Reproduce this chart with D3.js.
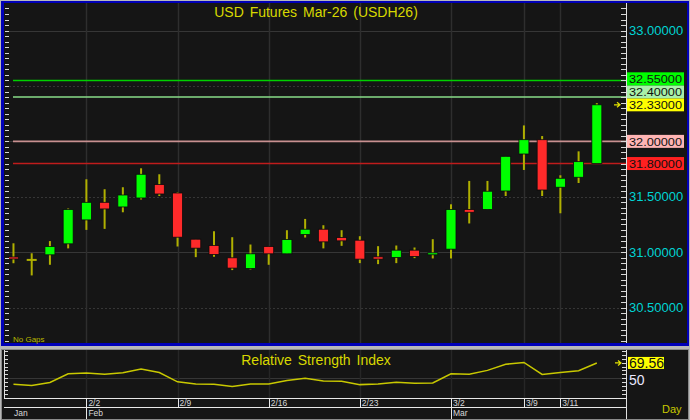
<!DOCTYPE html>
<html><head><meta charset="utf-8">
<script src="https://cdn.jsdelivr.net/npm/d3@7/dist/d3.min.js"></script>
<style>html,body{margin:0;padding:0;background:#c0c0c0;overflow:hidden}svg{display:block;font-family:"Liberation Sans",Arial,sans-serif}</style>
</head><body><svg id="c" width="690" height="420"></svg>
<script>
// ---------------- data ----------------
const title = "USD Futures Mar-26 (USDH26)";
const dates = ["1/27","1/28","1/29","1/30",
  "2/2","2/3","2/4","2/5","2/6","2/9","2/10","2/11","2/12","2/13",
  "2/16","2/17","2/18","2/19","2/20","2/23","2/24","2/25","2/26","2/27",
  "3/2","3/4","3/5","3/6","3/9","3/10","3/11","3/12","3/13"];
const opens  = [30.950,30.930,30.976,31.075,31.291,31.450,31.408,31.489,31.610,31.534,31.117,31.060,30.949,30.853,31.051,30.985,31.159,31.207,31.132,31.108,30.958,30.952,31.018,30.979,31.027,31.385,31.385,31.552,31.886,32.015,31.586,31.676,31.800];
const highs  = [31.080,30.990,31.100,31.394,31.658,31.568,31.586,31.757,31.703,31.540,31.117,31.189,31.135,31.069,31.051,31.198,31.300,31.243,31.198,31.144,31.054,31.060,31.042,31.117,31.432,31.643,31.643,31.865,32.144,32.048,31.694,31.910,32.345];
const lows   = [30.900,30.790,30.886,31.034,31.201,31.210,31.360,31.475,31.507,31.051,30.955,30.958,30.838,30.844,30.886,30.985,31.132,31.034,31.057,30.901,30.892,30.901,30.946,30.943,30.943,31.259,31.385,31.507,31.742,31.507,31.351,31.624,31.800];
const closes = [30.945,30.930,31.050,31.385,31.450,31.390,31.516,31.703,31.525,31.135,31.036,30.979,30.856,30.985,30.985,31.114,31.207,31.093,31.102,30.937,30.937,31.018,30.961,30.991,31.385,31.360,31.550,31.865,32.015,31.561,31.667,31.817,32.330];
const rsi    = [42.4,41.0,44.8,55.7,56.8,55.1,57.1,61.8,57.4,45.5,42.9,42.4,39.5,42.9,42.9,47.2,50.2,46.7,46.3,42.0,42.9,45.1,43.8,44.2,55.7,55.3,60.1,67.8,70.2,54.9,57.5,59.7,69.56];
const priceLabels = [30.5, 31.0, 31.5, 33.0];
const gridPrices = [30.5, 31.0, 31.5, 32.0, 32.5, 33.0];
const levels = [32.55, 32.40, 32.00, 31.80];
const lastPrice = 32.33;
const dayLabels = ["2/2","2/9","2/16","2/23","3/2","3/9","3/11"];
const monthLabels = ["Jan","Feb","Mar"];
const monthStarts = ["1/27","2/2","3/2"];
const rsiTitle = "Relative Strength Index";
const rsiMid = 50;

// ---------------- layout ----------------
const svg = d3.select("#c");
const W = 690, H = 420;
const plotL = 5, plotR = 626;
const mainT = 3, mainB = 343;
const lowT = 350, lowB = 398;

const x = d3.scaleLinear().domain([-0.3, 33.6]).range([8, plotR]);
const y = d3.scaleLinear().domain([30.18, 33.24]).range([343, 4]);
const yr = d3.scaleLinear().domain([25, 86]).range([398, 350]);
const idx = d => dates.indexOf(d);

const BG = "#151515";
// frames
svg.append("rect").attr("x",0).attr("y",0).attr("width",W).attr("height",H).attr("fill","#b8b8b8");
svg.append("rect").attr("x",1).attr("y",1).attr("width",688).attr("height",345).attr("fill","#0000b8");
svg.append("rect").attr("x",4).attr("y",3).attr("width",683).attr("height",340).attr("fill",BG);
svg.append("rect").attr("x",1.5).attr("y",349.5).attr("width",687).attr("height",70).attr("fill",BG).attr("stroke","#8a8a8a");

// ---------- main panel grid ----------
const g = svg.append("g");
g.selectAll(".hg").data(gridPrices).join("line")
  .attr("x1",plotL).attr("x2",plotR).attr("y1",d=>Math.round(y(d))+0.5).attr("y2",d=>Math.round(y(d))+0.5)
  .attr("stroke","#363636").attr("stroke-width",1)
  .attr("stroke-dasharray",d=>Number.isInteger(d)?null:"2,2");
g.selectAll(".vg").data(dayLabels).join("line")
  .attr("x1",d=>Math.round(x(idx(d)))+0.5).attr("x2",d=>Math.round(x(idx(d)))+0.5)
  .attr("y1",mainT).attr("y2",mainB).attr("stroke","#2e2e2e").attr("stroke-width",1.5);

// level lines
const levelStroke = ["#00d000","#88dd88","#c89090","#c01c1c"];
const levelFill = ["#00ff00","#a8f0a8","#ffb4b4","#ff2020"];
g.selectAll(".lv").data(levels).join("line")
  .attr("x1",13).attr("x2",plotR).attr("y1",d=>y(d)).attr("y2",d=>y(d))
  .attr("stroke",(d,i)=>levelStroke[i]).attr("stroke-width",1.6);

// candles
const cw = 10;
const cg = g.append("g");
const ci = d3.range(dates.length);
cg.selectAll(".wick").data(ci).join("line")
  .attr("x1",i=>x(i)).attr("x2",i=>x(i)).attr("y1",i=>y(highs[i])).attr("y2",i=>y(lows[i]))
  .attr("stroke","#b0b000").attr("stroke-width",2);
cg.selectAll(".body").data(ci).join("rect")
  .attr("x",i=>x(i)-cw/2).attr("width",cw)
  .attr("y",i=>{const t=y(Math.max(opens[i],closes[i])), b=y(Math.min(opens[i],closes[i])); return b-t<2?(t+b)/2-1:t;})
  .attr("height",i=>Math.max(2, y(Math.min(opens[i],closes[i]))-y(Math.max(opens[i],closes[i]))))
  .attr("fill",i=>closes[i]>opens[i]?"#00ff00":(closes[i]<opens[i]?"#ff2a2a":"#b0b000"))
  .attr("stroke","#0c0c0c").attr("stroke-width",i=>closes[i]===opens[i]?0:0.8);

// left / right ticks main
const mainTicks = d3.range(Math.ceil(30.18/0.05)*0.05, 33.24, 0.05);
g.selectAll(".lt").data(mainTicks).join("line")
  .attr("x1",5).attr("x2",9).attr("y1",d=>Math.round(y(d))+0.5).attr("y2",d=>Math.round(y(d))+0.5)
  .attr("stroke","#d8d8d8").attr("stroke-width",1);
g.selectAll(".rt").data(mainTicks).join("line")
  .attr("x1",621).attr("x2",plotR).attr("y1",d=>Math.round(y(d))+0.5).attr("y2",d=>Math.round(y(d))+0.5)
  .attr("stroke","#d8d8d8").attr("stroke-width",1);
g.append("line").attr("x1",plotR+0.5).attr("x2",plotR+0.5).attr("y1",mainT).attr("y2",mainB).attr("stroke","#e0e0e0");

// title
g.append("text").attr("x",316).attr("y",17).attr("text-anchor","middle")
  .attr("fill","#d8d800").attr("font-size",14).attr("word-spacing",2).text(title);

// price labels
g.selectAll(".pl").data(priceLabels).join("text")
  .attr("x",629).attr("y",d=>y(d)+4.5).attr("fill","#00d4d4").attr("font-size",13)
  .text(d=>d.toFixed(5));

// level labels with collision handling
const lab = levels.map((v,i)=>({v, c:y(v), fill:levelFill[i]}));
lab.push({v:lastPrice, c:y(lastPrice), fill:"#ffff00"});
lab.sort((a,b)=>b.c-a.c); // bottom first
const bh = 13;
for(let k=1;k<lab.length;k++){ lab[k].c = Math.min(lab[k].c, lab[k-1].c - bh); }
const lg = g.selectAll(".lb").data(lab).join("g");
lg.append("rect").attr("x",627).attr("y",d=>d.c-bh/2).attr("width",57).attr("height",bh).attr("fill",d=>d.fill);
lg.append("text").attr("x",629).attr("y",d=>d.c+4.2).attr("fill","#111").attr("font-size",11.5)
  .attr("textLength",53).attr("lengthAdjust","spacingAndGlyphs").text(d=>d.v.toFixed(5));

// last price arrow
const ap = y(lastPrice);
g.append("path").attr("d",`M614,${ap} h6 M617,${ap-2.5} l3,2.5 l-3,2.5`).attr("stroke","#e0e000").attr("stroke-width",1.2).attr("fill","none");

// No Gaps
g.append("text").attr("x",13).attr("y",342).attr("fill","#b8b800").attr("font-size",8).text("No Gaps");

// ---------- lower panel ----------
const lo = svg.append("g");
lo.append("line").attr("x1",plotL).attr("x2",plotR).attr("y1",Math.round(yr(rsiMid))+0.5).attr("y2",Math.round(yr(rsiMid))+0.5).attr("stroke","#363636");
lo.selectAll(".vg").data(dayLabels).join("line")
  .attr("x1",d=>Math.round(x(idx(d)))+0.5).attr("x2",d=>Math.round(x(idx(d)))+0.5)
  .attr("y1",lowT).attr("y2",lowB).attr("stroke","#262626").attr("stroke-width",1.5);
const rsiTicks = d3.range(30, 86, 5);
lo.selectAll(".lt").data(rsiTicks).join("line")
  .attr("x1",5).attr("x2",8).attr("y1",d=>Math.round(yr(d))+0.5).attr("y2",d=>Math.round(yr(d))+0.5).attr("stroke","#d8d8d8");
lo.selectAll(".rt").data(rsiTicks).join("line")
  .attr("x1",622).attr("x2",plotR).attr("y1",d=>Math.round(yr(d))+0.5).attr("y2",d=>Math.round(yr(d))+0.5).attr("stroke","#d8d8d8");
lo.append("line").attr("x1",4.5).attr("x2",4.5).attr("y1",lowT).attr("y2",lowB).attr("stroke","#e0e0e0");
lo.append("line").attr("x1",plotR+0.5).attr("x2",plotR+0.5).attr("y1",lowT).attr("y2",419).attr("stroke","#e0e0e0");
lo.append("path").datum(ci).attr("fill","none").attr("stroke","#c8c800").attr("stroke-width",1.5)
  .attr("d",d3.line().x(i=>x(i)).y(i=>yr(rsi[i])));
lo.append("text").attr("x",316).attr("y",365).attr("text-anchor","middle").attr("fill","#d8d800")
  .attr("font-size",14).attr("word-spacing",2).text(rsiTitle);
// RSI labels
const lastR = rsi[rsi.length-1];
lo.append("rect").attr("x",628).attr("y",yr(lastR)-6).attr("width",36).attr("height",12).attr("fill","#ffff00");
lo.append("text").attr("x",629).attr("y",yr(lastR)+5).attr("fill","#111").attr("font-size",14).text(lastR.toFixed(2));
lo.append("text").attr("x",629).attr("y",yr(rsiMid)+6.5).attr("fill","#e8e8ff").attr("font-size",14).text(rsiMid);
const ar = yr(lastR);
lo.append("path").attr("d",`M615,${ar} h6 M618,${ar-2.5} l3,2.5 l-3,2.5`).attr("stroke","#e0e000").attr("stroke-width",1.2).attr("fill","none");

// date axis
lo.append("line").attr("x1",4).attr("x2",plotR).attr("y1",lowB+0.5).attr("y2",lowB+0.5).attr("stroke","#e8e8e8");
lo.append("line").attr("x1",4).attr("x2",plotR).attr("y1",407.5).attr("y2",407.5).attr("stroke","#e8e8e8");
lo.selectAll(".dt").data(dayLabels).join("line")
  .attr("x1",d=>Math.round(x(idx(d)))+0.5).attr("x2",d=>Math.round(x(idx(d)))+0.5)
  .attr("y1",lowB).attr("y2",407).attr("stroke","#e8e8e8");
lo.selectAll(".dl").data(dayLabels).join("text")
  .attr("x",d=>x(idx(d))+2).attr("y",405.5).attr("fill","#d8d8d8").attr("font-size",8.5).text(d=>d);
lo.selectAll(".mt").data(monthStarts.slice(1)).join("line")
  .attr("x1",d=>Math.round(x(idx(d)))+0.5).attr("x2",d=>Math.round(x(idx(d)))+0.5)
  .attr("y1",407).attr("y2",419).attr("stroke","#e8e8e8");
lo.selectAll(".ml").data(monthLabels).join("text")
  .attr("x",(d,i)=>i===0?14:x(idx(monthStarts[i]))+2).attr("y",416).attr("fill","#d8d8d8").attr("font-size",8.5).text(d=>d);
lo.append("text").attr("x",662).attr("y",413).attr("fill","#c8c800").attr("font-size",11).text("Day");
</script></body></html>
